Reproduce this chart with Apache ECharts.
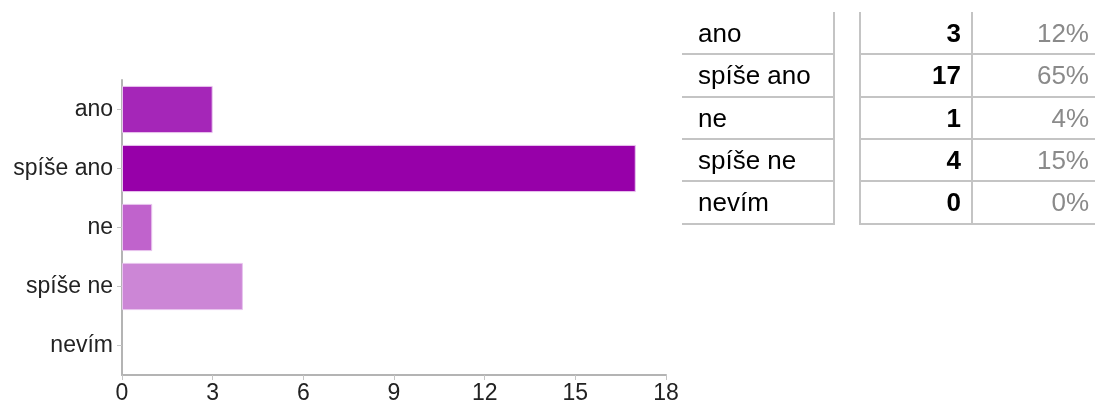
<!DOCTYPE html>
<html>
<head>
<meta charset="utf-8">
<script src="https://cdn.jsdelivr.net/npm/echarts@6/dist/echarts.min.js"></script>
<style>
  html, body { margin: 0; padding: 0; background: #fff; }
  #wrap { position: relative; width: 1095px; height: 407px; overflow: hidden; font-family: "Liberation Sans", Arial, sans-serif; }
  #chart { position: absolute; left: 0; top: 0; width: 1095px; height: 407px; }
  .cell { position: absolute; font-size: 26px; line-height: 42px; height: 42px; white-space: nowrap; }
  .hline { position: absolute; height: 2px; background: #c4c4c4; }
  .vline { position: absolute; width: 2px; background: #c4c4c4; }
</style>
</head>
<body>
<div id="wrap">
  <div id="chart"></div>
  <div id="table"></div>
</div>
<script>
const categories = ["ano", "spíše ano", "ne", "spíše ne", "nevím"];
const counts = [3, 17, 1, 4, 0];
const percentLabels = ["12%", "65%", "4%", "15%", "0%"];
const barColors = ["#a526b8", "#9700a9", "#c063cc", "#cc86d6", "#e0b0e8"];
const xTicks = [0, 3, 6, 9, 12, 15, 18];

const chart = echarts.init(document.getElementById('chart'), null, { renderer: 'canvas' });
chart.setOption({
  animation: false,
  grid: { left: 122, right: 429, top: 80, bottom: 32, containLabel: false },
  xAxis: {
    type: 'value', min: 0, max: 18, interval: 3,
    axisLine: { show: true, lineStyle: { color: '#b4b4b4', width: 2 } },
    axisTick: { show: true, length: 5, lineStyle: { color: '#c4c4c4', width: 1 } },
    axisLabel: { color: '#222', fontSize: 23, fontFamily: 'Liberation Sans', margin: 7,
      formatter: v => xTicks.includes(v) ? String(v) : '' },
    splitLine: { show: false }
  },
  yAxis: {
    type: 'category', data: categories, inverse: true,
    axisLine: { show: true, lineStyle: { color: '#b4b4b4', width: 2 } },
    axisTick: { show: true, alignWithLabel: true, length: 5, lineStyle: { color: '#c4c4c4', width: 1 } },
    axisLabel: { color: '#222', fontSize: 23, fontFamily: 'Liberation Sans', margin: 9 }
  },
  series: [{
    type: 'bar',
    data: counts.map((v, i) => ({ value: v, itemStyle: { color: barColors[i], borderWidth: v > 0 ? 1 : 0 } })),
    barCategoryGap: '20%',
    itemStyle: { borderColor: '#e8c4ee', borderWidth: 1 }
  }]
});

// Data table built from the same arrays
const tbl = document.getElementById('table');
const top0 = 12, rowH = 42.3;
function add(cls, style, text) {
  const d = document.createElement('div');
  d.className = cls;
  Object.assign(d.style, style);
  if (text !== undefined) d.textContent = text;
  tbl.appendChild(d);
}
categories.forEach((c, i) => {
  const y = Math.round(top0 + i * rowH);
  add('cell', { left: '698px', top: y + 'px', color: '#000' }, c);
  add('cell', { left: '862px', width: '99px', top: y + 'px', textAlign: 'right', fontWeight: 'bold', color: '#000' }, String(counts[i]));
  add('cell', { left: '974px', width: '115px', top: y + 'px', textAlign: 'right', color: '#8a8a8a' }, percentLabels[i]);
  const ly = Math.round(top0 + (i + 1) * rowH) - 1;
  add('hline', { left: '682px', width: '153px', top: ly + 'px' });
  add('hline', { left: '860px', width: '235px', top: ly + 'px' });
});
const tableH = Math.round(categories.length * rowH) + 1;
add('vline', { left: '833px', top: top0 + 'px', height: tableH + 'px' });
add('vline', { left: '859px', top: top0 + 'px', height: tableH + 'px' });
add('vline', { left: '971px', top: top0 + 'px', height: tableH + 'px' });
</script>
</body>
</html>
